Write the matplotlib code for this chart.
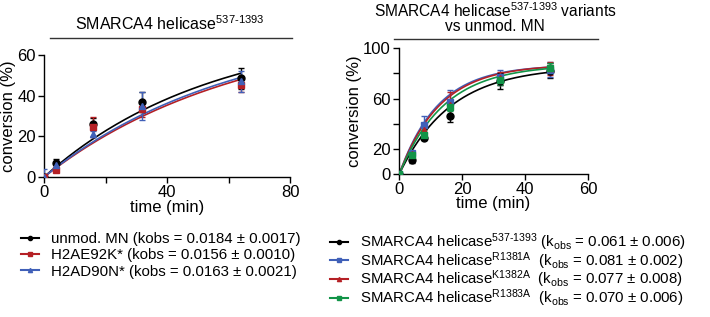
import numpy as np
import matplotlib.pyplot as plt

plt.rcParams['font.family'] = ['Liberation Sans', 'DejaVu Sans']
plt.rcParams['mathtext.fontset'] = 'custom'
plt.rcParams['mathtext.rm'] = 'Liberation Sans'
plt.rcParams['mathtext.it'] = 'Liberation Sans'

# left panel: nucleosome variants
t_left = [0, 4, 16, 32, 64]
unmod = [0, 7, 26, 37, 48.5]
unmod_err = [1, 2, 3, 5, 5]
e92k = [0, 3.5, 24.5, 33.5, 45]
e92k_err = [0.5, 1, 5, 4, 3]
d90n = [0, 6, 21, 35, 47]
d90n_err = [4, 2, 1.5, 7, 5]
left_kobs = [0.0184, 0.0156, 0.0163]
left_plateau = [73.7, 76.0, 75.6]
left_labels = ['unmod. MN (kobs = 0.0184 ± 0.0017)',
               'H2AE92K* (kobs = 0.0156 ± 0.0010)',
               'H2AD90N* (kobs = 0.0163 ± 0.0021)']

# right panel: helicase variants
t_right = [0, 4, 8, 16, 32, 48]
wt = [0, 11, 29, 46, 74, 82]
wt_err = [0.5, 2, 1.5, 5, 6, 6]
r1381a = [0, 17, 39, 57, 77, 83]
r1381a_err = [0.5, 1, 7, 10, 6, 6]
k1382a = [0, 16, 35, 55, 76, 84]
k1382a_err = [0.5, 1, 3, 10, 5, 5]
r1383a = [0, 15, 31, 53, 75, 84]
r1383a_err = [0.5, 1, 4, 3, 4, 4]
right_kobs = [0.061, 0.081, 0.077, 0.070]
right_plateau = [85.6, 86.8, 87.2, 87.0]
sup = r'$^{\mathregular{%s}}$'
right_labels = ['SMARCA4 helicase' + sup % r'537\text{-}1393' + r' (k$_{\mathregular{obs}}$ = 0.061 ± 0.006)',
                'SMARCA4 helicase' + sup % 'R1381A' + r'  (k$_{\mathregular{obs}}$ = 0.081 ± 0.002)',
                'SMARCA4 helicase' + sup % 'K1382A' + r'  (k$_{\mathregular{obs}}$ = 0.077 ± 0.008)',
                'SMARCA4 helicase' + sup % 'R1383A' + r'  (k$_{\mathregular{obs}}$ = 0.070 ± 0.006)']

black = '#000000'
red = '#b52025'
blue = '#4060b8'
green = '#129448'

fig = plt.figure(figsize=(7.1, 3.17), dpi=100)


def style_axes(ax):
    ax.spines['top'].set_visible(False)
    ax.spines['right'].set_visible(False)
    ax.tick_params(labelsize=12, length=4, width=1, pad=2)
    ax.tick_params(which='minor', length=4, width=1)
    for s in ['left', 'bottom']:
        ax.spines[s].set_linewidth(1)


def draw(ax, t, y, err, k, a, color, marker, tmax, label):
    # fitted single-exponential curve plus measured points
    tt = np.linspace(0, tmax, 200)
    ax.plot(tt, a * (1 - np.exp(-k * tt)), color=color, lw=1.2, zorder=2)
    ax.errorbar(t, y, yerr=err, fmt=marker, color=color, ms=5, capsize=2.5,
                elinewidth=1, capthick=1, zorder=3)
    return ax.plot([], [], color=color, marker=marker, ms=3, lw=1.5, label=label)[0]


# left
ax1 = fig.add_axes([0.062, 0.4416, 0.3465, 0.385])
style_axes(ax1)
h = []
h.append(draw(ax1, t_left, unmod, unmod_err, left_kobs[0], left_plateau[0], black, 'o', 64, left_labels[0]))
h.append(draw(ax1, t_left, e92k, e92k_err, left_kobs[1], left_plateau[1], red, 's', 64, left_labels[1]))
h.append(draw(ax1, t_left, d90n, d90n_err, left_kobs[2], left_plateau[2], blue, '^', 64, left_labels[2]))
ax1.set_xlim(0, 80)
ax1.set_ylim(0, 60)
ax1.set_xticks([0, 40, 80])
ax1.set_xticks([20, 60], minor=True)
ax1.set_yticks([0, 20, 40, 60])
ax1.set_xlabel('time (min)', fontsize=12, labelpad=0)
ax1.set_ylabel('conversion (%)', fontsize=12, labelpad=1)
fig.legend(handles=h, loc='upper left', bbox_to_anchor=(0.03, 0.268), frameon=False,
           fontsize=10.8, handlelength=1.2, handletextpad=0.8, labelspacing=0.15,
           borderaxespad=0, borderpad=0)
fig.text(0.239, 0.925, 'SMARCA4 helicase' + sup % r'537\text{-}1393', ha='center', va='center', fontsize=11.5)
fig.add_artist(plt.Line2D([0.07, 0.411], [0.88, 0.88], color='#333333', lw=1))

# right
ax2 = fig.add_axes([0.5624, 0.4511, 0.2656, 0.3965])
style_axes(ax2)
h = []
h.append(draw(ax2, t_right, wt, wt_err, right_kobs[0], right_plateau[0], black, 'o', 48, right_labels[0]))
h.append(draw(ax2, t_right, r1381a, r1381a_err, right_kobs[1], right_plateau[1], blue, 's', 48, right_labels[1]))
h.append(draw(ax2, t_right, k1382a, k1382a_err, right_kobs[2], right_plateau[2], red, '^', 48, right_labels[2]))
h.append(draw(ax2, t_right, r1383a, r1383a_err, right_kobs[3], right_plateau[3], green, 's', 48, right_labels[3]))
ax2.set_xlim(0, 60)
ax2.set_ylim(0, 100)
ax2.set_xticks([0, 20, 40, 60])
ax2.set_yticks([0, 20, 60, 100])
ax2.set_yticks([40, 80], minor=True)
ax2.set_xlabel('time (min)', fontsize=12, labelpad=-1)
ax2.set_ylabel('conversion (%)', fontsize=12, labelpad=1)
fig.legend(handles=h, loc='upper left', bbox_to_anchor=(0.465, 0.27), frameon=False,
           fontsize=10.8, handlelength=1.2, handletextpad=0.8, labelspacing=-0.2,
           borderaxespad=0, borderpad=0)
fig.text(0.697, 0.965, 'SMARCA4 helicase' + sup % r'537\text{-}1393' + ' variants',
         ha='center', va='center', fontsize=11.2)
fig.text(0.697, 0.915, 'vs unmod. MN', ha='center', va='center', fontsize=11.2)
fig.add_artist(plt.Line2D([0.555, 0.842], [0.877, 0.877], color='#333333', lw=1))

fig.savefig('out.png', dpi=100)
